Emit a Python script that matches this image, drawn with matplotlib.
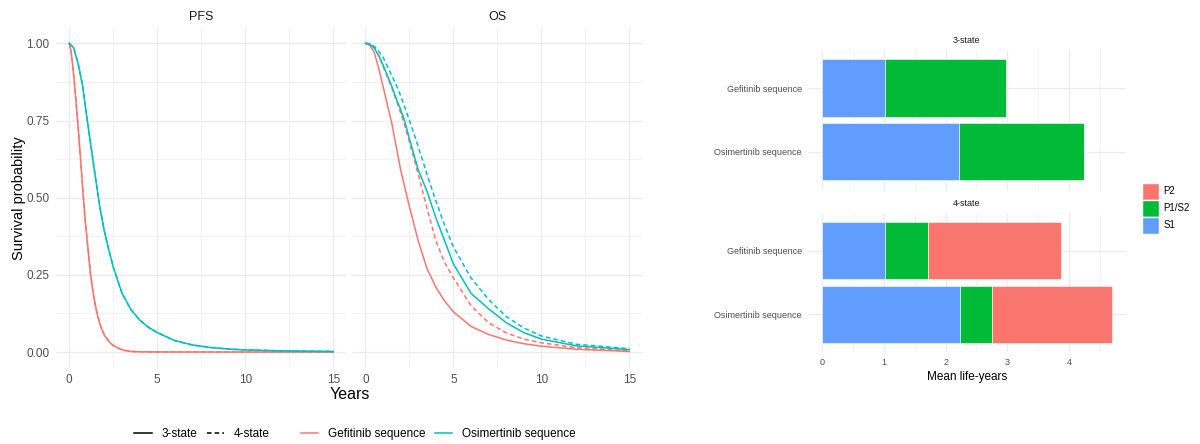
import matplotlib
matplotlib.use("Agg")
import matplotlib.pyplot as plt
from matplotlib.lines import Line2D
from matplotlib.patches import Patch
from matplotlib.ticker import MultipleLocator

plt.rcParams["font.family"] = ["Liberation Sans", "DejaVu Sans"]

# ---- survival curves (years, probability) ----
pfs_gef_t = [0, 0.1, 0.2, 0.3, 0.4, 0.5, 0.6, 0.7, 0.8, 0.9, 1.0, 1.2, 1.4, 1.6,
             1.8, 2.0, 2.25, 2.5, 3.0, 3.5, 4.0, 5.0, 15.0]
pfs_gef_3 = [1.0, 0.975, 0.925, 0.865, 0.8, 0.73, 0.655, 0.58, 0.5, 0.43, 0.37,
             0.255, 0.175, 0.12, 0.08, 0.054, 0.034, 0.021, 0.007, 0.002, 0.001,
             0.0003, 0.0]
pfs_gef_4 = [1.0, 0.975, 0.925, 0.865, 0.8, 0.73, 0.655, 0.58, 0.5, 0.43, 0.37,
             0.255, 0.175, 0.12, 0.08, 0.054, 0.034, 0.021, 0.007, 0.002, 0.001,
             0.0003, 0.0]

pfs_osi_t = [0, 0.25, 0.5, 0.75, 1.0, 1.25, 1.5, 1.75, 2.0, 2.25, 2.5, 3.0, 3.5,
             4.0, 4.5, 5.0, 6.0, 7.0, 8.0, 9.0, 10.0, 12.0, 15.0]
pfs_osi_3 = [1.0, 0.985, 0.935, 0.865, 0.76, 0.66, 0.56, 0.465, 0.39, 0.33, 0.275,
             0.19, 0.138, 0.104, 0.08, 0.063, 0.037, 0.023, 0.015, 0.01, 0.007,
             0.004, 0.002]
pfs_osi_4 = [1.0, 0.985, 0.935, 0.865, 0.76, 0.66, 0.56, 0.465, 0.39, 0.33, 0.275,
             0.19, 0.138, 0.104, 0.08, 0.063, 0.037, 0.023, 0.015, 0.01, 0.007,
             0.004, 0.002]

os_t = [0, 0.25, 0.5, 0.75, 1.0, 1.25, 1.5, 1.75, 2.0, 2.25, 2.5, 3.0, 3.5, 4.0,
        4.5, 5.0, 6.0, 7.0, 8.0, 9.0, 10.0, 12.0, 15.0]
os_gef_3 = [1.0, 0.993, 0.97, 0.92, 0.86, 0.8, 0.74, 0.665, 0.59, 0.53, 0.47,
            0.36, 0.27, 0.21, 0.165, 0.13, 0.083, 0.057, 0.039, 0.027, 0.019,
            0.009, 0.002]
os_gef_4 = [1.0, 0.998, 0.985, 0.96, 0.925, 0.89, 0.855, 0.815, 0.775, 0.73, 0.68,
            0.575, 0.465, 0.36, 0.29, 0.24, 0.15, 0.095, 0.062, 0.042, 0.03,
            0.014, 0.004]
os_osi_3 = [1.0, 0.997, 0.985, 0.96, 0.93, 0.895, 0.86, 0.82, 0.785, 0.745, 0.69,
            0.59, 0.52, 0.435, 0.36, 0.285, 0.19, 0.14, 0.095, 0.063, 0.042,
            0.02, 0.008]
os_osi_4 = [1.0, 0.999, 0.99, 0.975, 0.955, 0.925, 0.895, 0.865, 0.83, 0.79, 0.75,
            0.665, 0.575, 0.49, 0.41, 0.34, 0.24, 0.17, 0.115, 0.078, 0.052,
            0.025, 0.011]

# ---- mean life-years by state ----
sequences = ["Gefitinib sequence", "Osimertinib sequence"]
states = ["S1", "P1/S2", "P2"]
ly_3state = {"S1": [1.02, 2.21], "P1/S2": [1.96, 2.03], "P2": [0.0, 0.0]}
ly_4state = {"S1": [1.02, 2.23], "P1/S2": [0.70, 0.52], "P2": [2.14, 1.94]}

RED, CYAN = "#F8766D", "#00BFC4"
STATE_COL = {"P2": "#F8766D", "P1/S2": "#00BA38", "S1": "#619CFF"}
GRID = "#EBEBEB"
TXT = "#4D4D4D"

W, H = 1200, 444
fig = plt.figure(figsize=(12, 4.44), dpi=100)


def px_axes(x0, y0, x1, y1):
    return fig.add_axes([x0 / W, 1 - y1 / H, (x1 - x0) / W, (y1 - y0) / H])


def minimal(ax, major_lw=0.9, minor_lw=0.5):
    for s in ax.spines.values():
        s.set_visible(False)
    ax.grid(True, which="major", color=GRID, lw=major_lw, zorder=0)
    ax.grid(True, which="minor", color=GRID, lw=minor_lw, zorder=0)
    ax.tick_params(which="both", length=0, colors=TXT)
    ax.set_axisbelow(True)


# ---- survival panels ----
panels = [
    ("PFS", 56.1, [(pfs_gef_t, pfs_gef_3, pfs_gef_4, RED),
                   (pfs_osi_t, pfs_osi_3, pfs_osi_4, CYAN)]),
    ("OS", 352.3, [(os_t, os_gef_3, os_gef_4, RED),
                   (os_t, os_osi_3, os_osi_4, CYAN)]),
]
for i, (name, left, curves) in enumerate(panels):
    ax = px_axes(left, 27.9, left + 290.3, 367.5)
    for t, s3, s4, col in curves:
        ax.plot(t, s3, color=col, lw=1.1, zorder=3)
        ax.plot(t, s4, color=col, lw=1.1, ls=(0, (3, 2)), zorder=3)
    ax.set_xlim(-0.75, 15.75)
    ax.set_ylim(-0.05, 1.05)
    ax.set_xticks([0, 5, 10, 15])
    ax.xaxis.set_minor_locator(MultipleLocator(2.5))
    ax.set_yticks([0, 0.25, 0.5, 0.75, 1.0])
    ax.yaxis.set_minor_locator(MultipleLocator(0.125))
    minimal(ax)
    ax.tick_params(labelsize=8.5, pad=5)
    if i == 0:
        ax.set_yticklabels(["0.00", "0.25", "0.50", "0.75", "1.00"])
        ax.set_ylabel("Survival probability", fontsize=10.5, color="black", labelpad=0)
    else:
        ax.set_yticklabels([])
    ax.set_title(name, fontsize=9, color="#1A1A1A", pad=6)

fig.text(349.5 / W, 1 - 394 / H, "Years", fontsize=11.5, ha="center", va="center")

# bottom legends
lt_handles = [Line2D([], [], color="black", lw=1.1, label="3-state"),
              Line2D([], [], color="black", lw=1.1, ls=(0, (3, 2)), label="4-state")]
col_handles = [Line2D([], [], color=RED, lw=1.1, label="Gefitinib sequence"),
               Line2D([], [], color=CYAN, lw=1.1, label="Osimertinib sequence")]
leg_kw = dict(frameon=False, ncol=2, fontsize=8.5, handlelength=1.5,
              handletextpad=0.8, columnspacing=0.8, borderaxespad=0)
fig.legend(handles=lt_handles, loc="center", bbox_to_anchor=(202 / W, 1 - 434 / H), **leg_kw)
fig.legend(handles=col_handles, loc="center", bbox_to_anchor=(438 / W, 1 - 434 / H), **leg_kw)

# ---- mean life-years bars ----
facets = [("3-state", ly_3state, 49.9, 189.6), ("4-state", ly_4state, 212.7, 352.0)]
ypos = list(range(1, len(sequences) + 1))
for j, (name, data, top, bot) in enumerate(facets):
    ax = px_axes(807.5, top, 1126.0, bot)
    left = [0.0] * len(sequences)
    for st in states:
        ax.barh(ypos, data[st], left=left, height=0.9, color=STATE_COL[st],
                edgecolor="white", lw=0.4, zorder=3)
        left = [a + b for a, b in zip(left, data[st])]
    ax.set_xlim(-0.2345, 4.92)
    ax.set_ylim(2.6, 0.4)
    ax.set_yticks(ypos)
    ax.set_yticklabels(sequences)
    ax.set_xticks([0, 1, 2, 3, 4])
    ax.xaxis.set_minor_locator(MultipleLocator(0.5))
    minimal(ax, major_lw=0.8, minor_lw=0.4)
    ax.tick_params(labelsize=6.5, pad=4)
    ax.set_title(name, fontsize=6.5, color="#1A1A1A", pad=5)
    if j == 0:
        ax.set_xticklabels([])
    else:
        ax.set_xlabel("Mean life-years", fontsize=8.5, labelpad=3)

bar_handles = [Patch(facecolor=STATE_COL[s], edgecolor="white", label=s)
               for s in ["P2", "P1/S2", "S1"]]
fig.legend(handles=bar_handles, loc="upper left", bbox_to_anchor=(1142 / W, 1 - 183 / H),
           frameon=False, fontsize=7, handlelength=1.7, handleheight=2.25,
           handletextpad=0.5, labelspacing=0.05, borderaxespad=0, borderpad=0)

fig.savefig("out.png", dpi=100, facecolor="white")
